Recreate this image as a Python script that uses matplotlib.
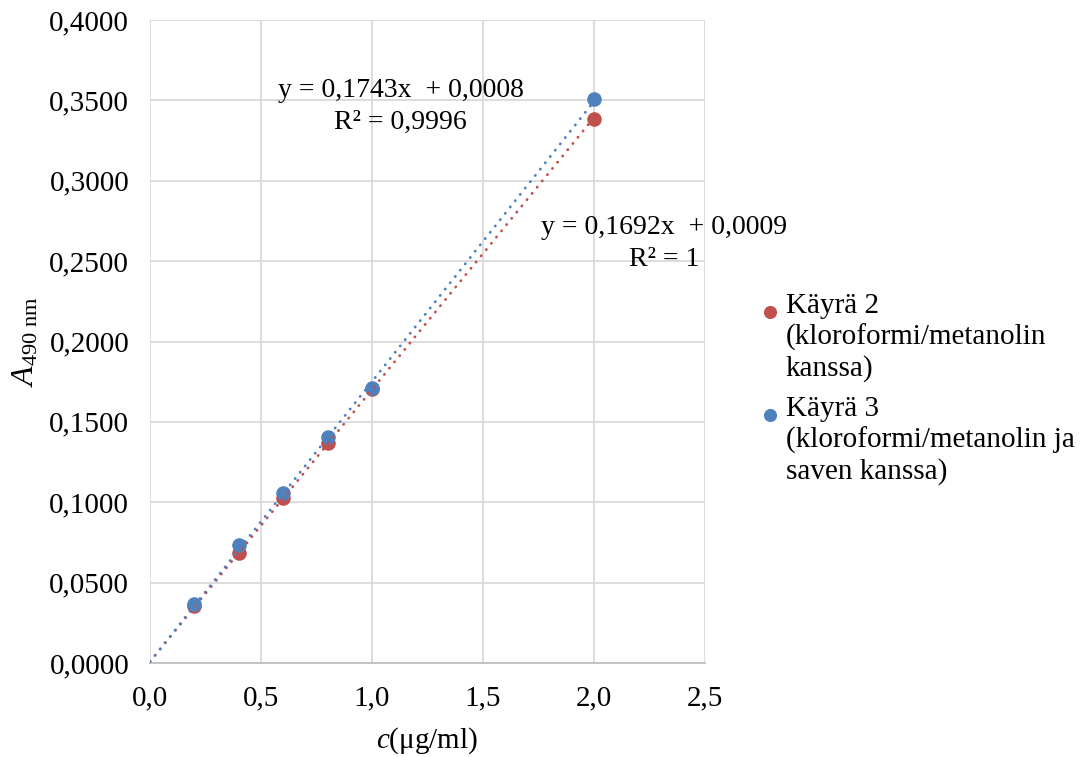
import matplotlib.pyplot as plt
from matplotlib.legend_handler import HandlerLine2D
import numpy as np

plt.rcParams['font.family'] = ['Liberation Serif', 'DejaVu Serif']
plt.rcParams['mathtext.fontset'] = 'custom'
plt.rcParams['mathtext.rm'] = 'Liberation Serif'
plt.rcParams['mathtext.it'] = 'Liberation Serif:italic'

# data
conc = [0.2, 0.4, 0.6, 0.8, 1.0, 2.0]
abs_k2 = [0.0355, 0.0684, 0.1026, 0.1369, 0.1705, 0.3384]
abs_k3 = [0.0367, 0.0734, 0.1058, 0.1406, 0.1710, 0.3509]
labels = ["Käyrä 2\n(kloroformi/metanolin\nkanssa)",
          "Käyrä 3\n(kloroformi/metanolin ja\nsaven kanssa)"]
fit_k2 = (0.1692, 0.0009)
fit_k3 = (0.1743, 0.0008)
eq_k2 = "y = 0,1692x  + 0,0009\nR² = 1"
eq_k3 = "y = 0,1743x  + 0,0008\nR² = 0,9996"

red = "#C0504D"
blue = "#4F81BD"
fs = 21


class FirstLineHandler(HandlerLine2D):
    # put the legend marker beside the first line of a multi-line label
    def create_artists(self, legend, orig_handle, xdescent, ydescent,
                       width, height, fontsize, trans):
        return super().create_artists(legend, orig_handle, xdescent,
                                      ydescent - 1.75 * fontsize, width, height,
                                      fontsize, trans)


fig = plt.figure(figsize=(10.9, 7.57), dpi=100)
ax = fig.add_axes([150 / 1090, 94 / 757, 555 / 1090, 643 / 757])

l2, = ax.plot(conc, abs_k2, 'o', ms=10.5, color=red, mew=0, zorder=3, label=labels[0])
l3, = ax.plot(conc, abs_k3, 'o', ms=10.5, color=blue, mew=0, zorder=3, label=labels[1])

xx = np.array([0.0, 2.0])
ax.plot(xx, fit_k2[0] * xx + fit_k2[1], color=red, lw=2.0,
        linestyle=(0, (0.1, 2.8)), dash_capstyle='round', zorder=4)
ax.plot(xx, fit_k3[0] * xx + fit_k3[1], color=blue, lw=2.0,
        linestyle=(0, (0.1, 2.8)), dash_capstyle='round', zorder=4)

ax.text(1.13, 0.3462, eq_k3, ha='center', va='center', fontsize=20,
        linespacing=1.4)
ax.text(2.315, 0.261, eq_k2, ha='center', va='center', fontsize=20,
        linespacing=1.4, clip_on=False)

ax.set_xlim(0, 2.5)
ax.set_ylim(0, 0.4)
xt = np.arange(0, 2.51, 0.5)
yt = np.arange(0, 0.401, 0.05)
ax.set_xticks(xt)
ax.set_yticks(yt)
ax.set_xticklabels([f"{v:.1f}".replace('.', ',') for v in xt])
ax.set_yticklabels([f"{v:.4f}".replace('.', ',') for v in yt])
ax.tick_params(axis='y', length=0, labelsize=fs, pad=15)
ax.tick_params(axis='x', length=0, labelsize=fs, pad=16)
ax.grid(True, color='#d9d9d9', lw=1.3)
ax.set_axisbelow(True)
for s in ['top', 'right', 'left']:
    ax.spines[s].set_visible(False)
ax.spines['bottom'].set_color('#bfbfbf')
ax.spines['bottom'].set_linewidth(1.3)

ax.set_xlabel(r'$c$(μg/ml)', fontsize=fs, labelpad=10)
ax.set_ylabel(r'$A_{\mathrm{490\ nm}}$', fontsize=23, labelpad=6)

fig.legend(handles=[l2, l3], loc='upper left',
           bbox_to_anchor=(732 / 1090, 1 - 267 / 757),
           frameon=False, fontsize=fs, handletextpad=0.15, handlelength=0.8,
           labelspacing=0.5, markerscale=0.9,
           handler_map={l2: FirstLineHandler(), l3: FirstLineHandler()})

fig.savefig("out.png", dpi=100)
